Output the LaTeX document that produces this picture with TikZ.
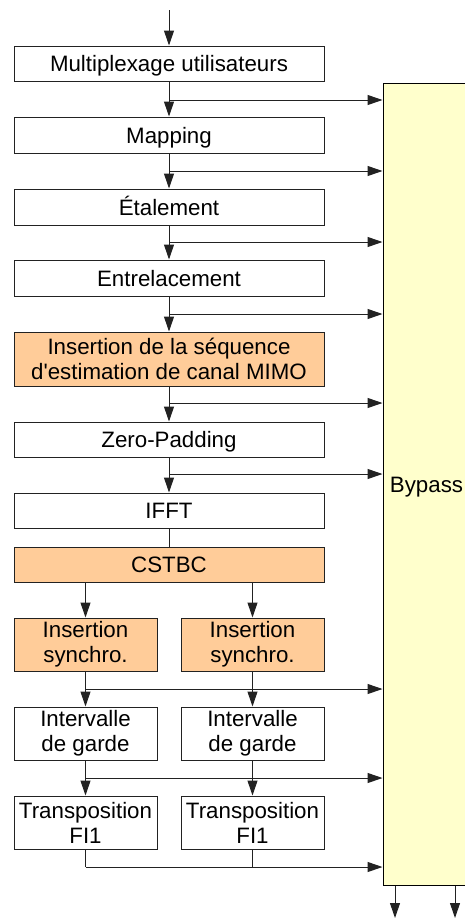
\documentclass[tikz,border=0pt]{standalone}
\usepackage{fontspec}
\setmainfont{Liberation Sans}
\usetikzlibrary{arrows.meta}
\definecolor{orangebox}{HTML}{FFCC99}
\definecolor{bypassfill}{HTML}{FFFFCC}
\definecolor{linecol}{HTML}{222222}
\begin{document}
\begin{tikzpicture}[x=1pt,y=-1pt,
  every node/.style={font=\fontsize{22.3}{25}\selectfont, inner sep=0pt, align=center},
  blk/.style={draw=linecol, line width=1pt, fill=white, minimum width=310pt, minimum height=35pt},
  blkor/.style={blk, fill=orangebox},
  oneline/.style={text height=16pt, text depth=0pt},
  half/.style={draw=linecol, line width=1pt, fill=white, minimum width=143pt, minimum height=53pt},
  halfor/.style={half, fill=orangebox},
  arr/.style={draw=linecol, line width=1pt, -{Triangle[length=15pt,width=10pt]}},
  ln/.style={draw=linecol, line width=1pt}]
\useasboundingbox (0,0) rectangle (465,918);
\begin{scope}
\clip (0,0) rectangle (465,918);
\node[draw=black, line width=1pt, fill=bypassfill, minimum width=87pt, minimum height=802pt, oneline] (byp) at (426.5,484) {Bypass};
\end{scope}

\node[blk, oneline] (mux) at (169,63.5) {Multiplexage utilisateurs};
\node[blk, oneline, minimum height=36pt] (map) at (169,135) {Mapping};
\node[blk, oneline, minimum height=36pt] (eta) at (169,207) {Étalement};
\node[blk, oneline, minimum height=36pt] (ent) at (169,278) {Entrelacement};
\node[blkor, minimum height=54pt] (ins) at (169,359) {Insertion de la séquence\\d\textquotesingle estimation de canal MIMO};
\node[blk, oneline] (zp) at (169,439.5) {Zero-Padding};
\node[blk, oneline] (ifft) at (169,510.5) {IFFT};
\node[blkor, oneline] (cstbc) at (169,564.5) {CSTBC};
\node[halfor] (sya) at (85.5,644.5) {Insertion\\synchro.};
\node[halfor] (syb) at (252.5,644.5) {Insertion\\synchro.};
\node[half] (iga) at (85.5,733.5) {Intervalle\\de garde};
\node[half] (igb) at (252.5,733.5) {Intervalle\\de garde};
\node[half] (tra) at (85.5,822.5) {Transposition\\FI1};
\node[half] (trb) at (252.5,822.5) {Transposition\\FI1};

\coordinate (in) at (169,10);
\draw[arr] (in) -- (mux.north);

\coordinate (b1) at (169,100);
\coordinate (b2) at (169,171);
\coordinate (b3) at (169,242);
\coordinate (b4) at (169,314);
\coordinate (b5) at (169,403);
\coordinate (b6) at (169,474);
\draw[arr] (mux.south) -- (map.north);
\draw[arr] (map.south) -- (eta.north);
\draw[arr] (eta.south) -- (ent.north);
\draw[arr] (ent.south) -- (ins.north);
\draw[arr] (ins.south) -- (zp.north);
\draw[arr] (zp.south) -- (ifft.north);
\foreach \b in {b1,b2,b3,b4,b5,b6}
  \draw[arr] (\b) -- (\b -| byp.west);
\draw[ln] (ifft.south) -- (cstbc.north);

\draw[arr] (cstbc.south -| sya.north) -- (sya.north);
\draw[arr] (cstbc.south -| syb.north) -- (syb.north);

\coordinate (c1) at (85.5,689);
\coordinate (c2) at (85.5,778);
\coordinate (c3) at (85.5,867);
\draw[arr] (sya.south) -- (iga.north);
\draw[arr] (syb.south) -- (igb.north);
\draw[arr] (iga.south) -- (tra.north);
\draw[arr] (igb.south) -- (trb.north);
\draw[arr] (c1) -- (c1 -| byp.west);
\draw[arr] (c2) -- (c2 -| byp.west);
\draw[ln] (tra.south) -- (c3);
\draw[ln] (trb.south) -- (trb.south |- c3);
\draw[arr] (c3) -- (c3 -| byp.west);

\coordinate (o1) at (395,918);
\coordinate (o2) at (455,918);
\draw[arr] (byp.south -| o1) -- (o1);
\draw[arr] (byp.south -| o2) -- (o2);
\end{tikzpicture}
\end{document}
